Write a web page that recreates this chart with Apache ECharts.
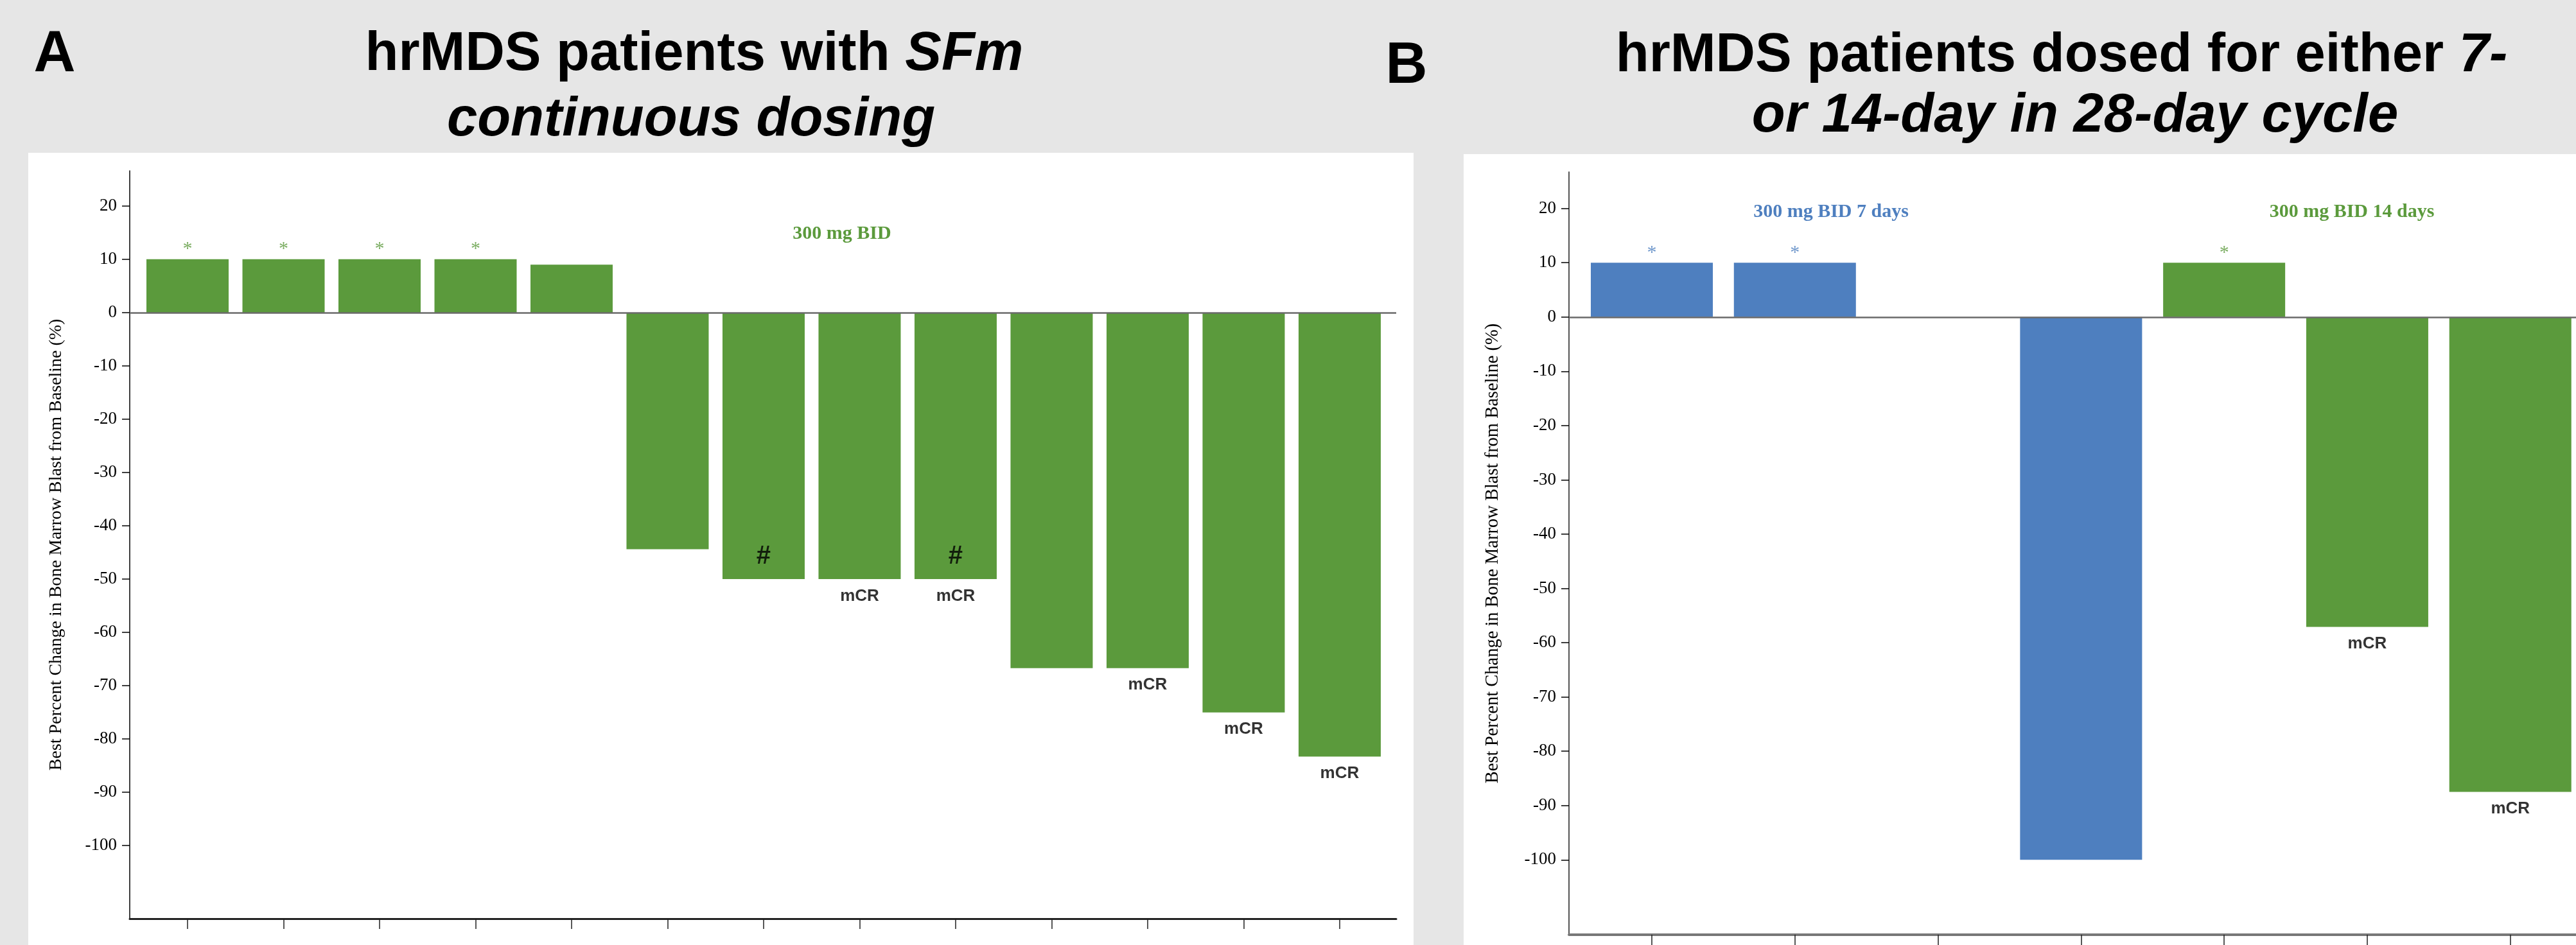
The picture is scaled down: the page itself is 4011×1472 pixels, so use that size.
<!DOCTYPE html>
<html><head><meta charset="utf-8">
<script src="https://cdn.jsdelivr.net/npm/echarts@6/dist/echarts.min.js"></script>
<style>html,body{margin:0;padding:0;background:#e6e6e6}#c{width:4011px;height:1472px}</style>
</head><body><div id="c"></div>
<script>
// ---------- Panel A data (continuous dosing) ----------
const patientsA = ['P1','P2','P3','P4','P5','P6','P7','P8','P9','P10','P11','P12','P13'];
const valuesA   = [10, 10, 10, 10, 9, -44.4, -50, -50, -50, -66.7, -66.7, -75, -83.3];
const starA     = ['*','*','*','*','','','','','','','','',''];
const hashA     = ['','','','','','','#','','#','','','',''];
const respA     = ['','','','','','','','mCR','mCR','','mCR','mCR','mCR'];
const cohortLabelA = '300 mg BID';

// ---------- Panel B data (7- or 14-day dosing) ----------
const patientsB = ['Q1','Q2','Q3','Q4','Q5','Q6','Q7'];
const valuesB   = [10, 10, 0, -100, 10, -57.1, -87.5];
const cohortB   = ['7d','7d','7d','7d','14d','14d','14d'];
const starB     = ['*','*','','','*','',''];
const respB     = ['','','','','','mCR','mCR'];
const cohortLabelsB = {'7d':'300 mg BID 7 days','14d':'300 mg BID 14 days'};

// ---------- Axis ticks ----------
const yTicks = [20,10,0,-10,-20,-30,-40,-50,-60,-70,-80,-90,-100];
const yTitle = 'Best Percent Change in Bone Marrow Blast from Baseline (%)';

const GREEN = '#5B9A3C', BLUE = '#4E7FBF';
const colB = c => c === '7d' ? BLUE : GREEN;
const idxA = patientsA.map((_, i) => i);
const idxB = patientsB.map((_, i) => i);

function yAxisCfg(grid, min, max, gap, nameSize, lineColor, lineWidth) {
  return {
    gridIndex: grid, type: 'value', min: min, max: max,
    axisLine: {show: true, onZero: false, lineStyle: {color: lineColor, width: lineWidth}},
    axisTick: {show: true, customValues: yTicks, length: 12, lineStyle: {color: '#000', width: 1.5}},
    axisLabel: {customValues: yTicks, margin: 20, fontFamily: 'Liberation Serif', fontSize: 27, color: '#000'},
    splitLine: {show: false},
    name: yTitle, nameLocation: 'middle', nameGap: gap,
    nameTextStyle: {fontFamily: 'Liberation Serif', fontSize: nameSize, color: '#000'}
  };
}
function xAxisCfg(grid, min, max, ticks, lineColor, lineWidth) {
  return {
    gridIndex: grid, type: 'value', min: min, max: max,
    axisLine: {show: true, onZero: false, lineStyle: {color: lineColor, width: lineWidth}},
    axisTick: {show: true, customValues: ticks, length: 16, lineStyle: {color: '#222', width: 1.5}},
    axisLabel: {show: false}, splitLine: {show: false}
  };
}
function labelSeries(xi, vals, texts, pos, dist, font, colors) {
  return {
    type: 'scatter', xAxisIndex: xi, yAxisIndex: xi, silent: true, symbolSize: 1, z: 5,
    itemStyle: {color: 'transparent'},
    data: vals.map((v, i) => ({
      value: [i, v],
      label: {show: texts[i] !== '', formatter: texts[i], color: colors[i]}
    })),
    label: Object.assign({position: pos, distance: dist}, font)
  };
}
const zeroLine = {silent: true, symbol: 'none', label: {show: false},
  lineStyle: {color: '#6a6a6a', width: 2.5, type: 'solid'}, data: [{yAxis: 0}]};

const serifStar = {fontFamily: 'Liberation Serif', fontSize: 30};
const sansResp = {fontFamily: 'Liberation Sans', fontSize: 26, fontWeight: 'bold'};
const sansHash = {fontFamily: 'Liberation Sans', fontSize: 40, fontWeight: 'bold'};

const titleFont = 'Liberation Sans';
const TS = 85;
function t(x, y, text, extra) {
  return Object.assign({type: 'text', x: x, y: y, z: 10,
    style: Object.assign({text: text, fill: '#000', align: 'center', verticalAlign: 'middle',
      fontFamily: titleFont, fontWeight: 'bold', fontSize: TS}, extra || {})});
}
const richT = {n: {fontFamily: titleFont, fontWeight: 'bold', fontSize: TS, fill: '#000'},
               i: {fontFamily: titleFont, fontWeight: 'bold', fontStyle: 'italic', fontSize: TS, fill: '#000'}};

const option = {
  backgroundColor: '#e6e6e6',
  animation: false,
  grid: [
    {left: 202, top: 266, width: 1972, height: 1165},
    {left: 2443, top: 268, width: 1568, height: 1188}
  ],
  xAxis: [
    xAxisCfg(0, -0.602, 12.589, idxA, '#222', 3),
    xAxisCfg(1, -0.579, 6.459, idxB, '#777', 4)
  ],
  yAxis: [
    yAxisCfg(0, -113.7, 26.6, 100, 28, '#000', 1.5),
    yAxisCfg(1, -113.8, 26.7, 104, 28.5, '#555', 2)
  ],
  graphic: [
    {type: 'rect', z: -10, shape: {x: 44, y: 238, width: 2157, height: 1300}, style: {fill: '#fff'}},
    {type: 'rect', z: -10, shape: {x: 2279, y: 240, width: 1800, height: 1300}, style: {fill: '#fff'}},
    t(85, 86, 'A', {fontSize: 90}),
    t(2190, 104, 'B', {fontSize: 90}),
    {type: 'text', x: 1081, y: 86, z: 10, style: {text: '{n|hrMDS patients with }{i|SFm}', rich: richT, align: 'center', verticalAlign: 'middle'}},
    t(1076, 188, 'continuous dosing', {fontStyle: 'italic'}),
    {type: 'text', x: 3210, y: 88, z: 10, style: {text: '{n|hrMDS patients dosed for either }{i|7-}', rich: richT, align: 'center', verticalAlign: 'middle'}},
    t(3231, 182, 'or 14-day in 28-day cycle', {fontStyle: 'italic'}),
    {type: 'text', x: 1311, y: 364, z: 10, style: {text: cohortLabelA, fill: GREEN, align: 'center', verticalAlign: 'middle', fontFamily: 'Liberation Serif', fontWeight: 'bold', fontSize: 30}},
    {type: 'text', x: 2851, y: 330, z: 10, style: {text: cohortLabelsB['7d'], fill: BLUE, align: 'center', verticalAlign: 'middle', fontFamily: 'Liberation Serif', fontWeight: 'bold', fontSize: 30}},
    {type: 'text', x: 3662, y: 330, z: 10, style: {text: cohortLabelsB['14d'], fill: GREEN, align: 'center', verticalAlign: 'middle', fontFamily: 'Liberation Serif', fontWeight: 'bold', fontSize: 30}}
  ],
  series: [
    {type: 'bar', xAxisIndex: 0, yAxisIndex: 0, barWidth: 128, silent: true,
     itemStyle: {color: GREEN}, data: valuesA.map((v, i) => [i, v]), markLine: zeroLine},
    labelSeries(0, valuesA, starA, 'top', 0, serifStar, valuesA.map(() => GREEN)),
    labelSeries(0, valuesA, hashA, 'top', 15, sansHash, valuesA.map(() => '#000')),
    labelSeries(0, valuesA, respA, 'bottom', 13, sansResp, valuesA.map(() => '#000')),
    {type: 'bar', xAxisIndex: 1, yAxisIndex: 1, barWidth: 190, silent: true,
     data: valuesB.map((v, i) => ({value: [i, v], itemStyle: {color: colB(cohortB[i])}})), markLine: zeroLine},
    labelSeries(1, valuesB, starB, 'top', 0, serifStar, cohortB.map(colB)),
    labelSeries(1, valuesB, respB, 'bottom', 13, sansResp, valuesB.map(() => '#000'))
  ]
};
const chart = echarts.init(document.getElementById('c'), null, {renderer: 'canvas'});
chart.setOption(option);
</script></body></html>
